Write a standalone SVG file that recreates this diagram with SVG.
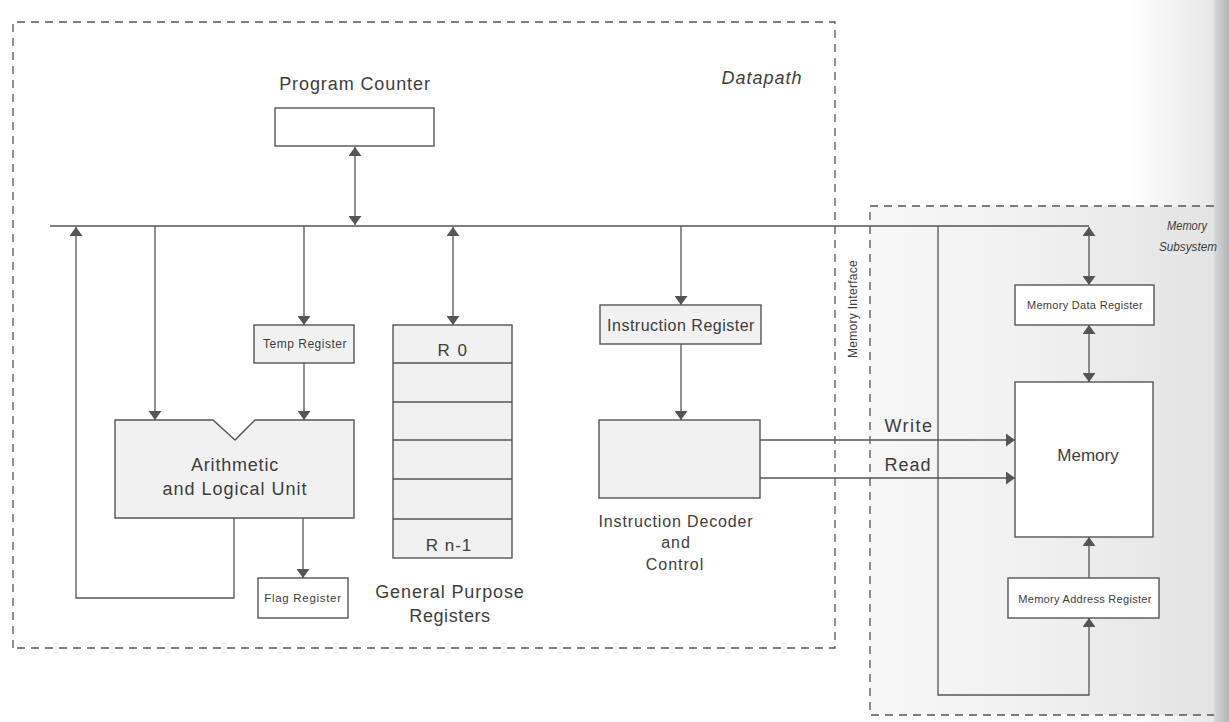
<svg xmlns="http://www.w3.org/2000/svg" width="1229" height="722" viewBox="0 0 1229 722">
<defs>
<linearGradient id="bg" x1="0" y1="0" x2="1" y2="0">
<stop offset="0" stop-color="#ffffff"/>
<stop offset="0.92" stop-color="#ffffff"/>
<stop offset="1" stop-color="#e2e2e2"/>
</linearGradient>
<linearGradient id="memshade" x1="0" y1="0" x2="1" y2="0">
<stop offset="0" stop-color="#f7f7f7"/>
<stop offset="0.5" stop-color="#f0f0f0"/>
<stop offset="1" stop-color="#e3e3e3"/>
</linearGradient>
<linearGradient id="gutter" x1="0" y1="0" x2="1" y2="0">
<stop offset="0" stop-color="#d8d8d8"/>
<stop offset="1" stop-color="#b4b4b4"/>
</linearGradient>
<marker id="ahl" viewBox="0 0 10 10" refX="10" refY="5" markerWidth="9" markerHeight="13" markerUnits="userSpaceOnUse" orient="auto-start-reverse" preserveAspectRatio="none">
<path d="M0,0 L10,5 L0,10 z" fill="#555"/>
</marker>
</defs>
<style>
.box{fill:#ffffff;stroke:#555;stroke-width:1.4}
.gbox{fill:#f1f1f1;stroke:#555;stroke-width:1.4}
.dash{fill:none;stroke:#555;stroke-width:1.3;stroke-dasharray:8 6}
.ln{fill:none;stroke:#555;stroke-width:1.3}
.t{font-family:"Liberation Sans",Arial,sans-serif;fill:#3d3d3d;text-anchor:middle}
.it{font-style:italic}
</style>
<rect x="0" y="0" width="1229" height="722" fill="url(#bg)"/>
<rect x="870" y="206" width="344" height="509" fill="url(#memshade)"/>
<rect x="1214" y="0" width="15" height="722" fill="url(#gutter)"/>

<g id="datapath-boundary">
<path class="dash" d="M13,648 L13,22 L835,22 L835,648 Z"/>
<text class="t it" x="762" y="84" font-size="18" letter-spacing="1">Datapath</text>
</g>
<g id="memory-subsystem-boundary">
<path class="dash" d="M1214,206 L870,206 L870,715 L1214,715"/>
<text class="t it" x="1187" y="230" font-size="13" textLength="40" lengthAdjust="spacingAndGlyphs">Memory</text>
<text class="t it" x="1188" y="251" font-size="13" textLength="58" lengthAdjust="spacingAndGlyphs">Subsystem</text>
</g>
<g id="memory-interface-label">
<text class="t" font-size="12" letter-spacing="0.3" transform="translate(857,309) rotate(-90)">Memory Interface</text>
</g>

<g id="connectors">
<line class="ln" x1="50" y1="226" x2="1089" y2="226"/>
<line class="ln" x1="355" y1="147" x2="355" y2="225" marker-start="url(#ahl)" marker-end="url(#ahl)"/>
<line class="ln" x1="155" y1="226" x2="155" y2="420" marker-end="url(#ahl)"/>
<line class="ln" x1="304" y1="226" x2="304" y2="325" marker-end="url(#ahl)"/>
<line class="ln" x1="304" y1="363" x2="304" y2="420" marker-end="url(#ahl)"/>
<path class="ln" d="M234,518 L234,598 L76,598 L76,227" marker-end="url(#ahl)"/>
<line class="ln" x1="303" y1="518" x2="303" y2="578" marker-end="url(#ahl)"/>
<line class="ln" x1="453" y1="227" x2="453" y2="325" marker-start="url(#ahl)" marker-end="url(#ahl)"/>
<line class="ln" x1="681" y1="226" x2="681" y2="305" marker-end="url(#ahl)"/>
<line class="ln" x1="681" y1="344" x2="681" y2="420" marker-end="url(#ahl)"/>
<line class="ln" x1="760" y1="440" x2="1015" y2="440" marker-end="url(#ahl)"/>
<line class="ln" x1="760" y1="478" x2="1015" y2="478" marker-end="url(#ahl)"/>
<line class="ln" x1="1089" y1="227" x2="1089" y2="285" marker-start="url(#ahl)" marker-end="url(#ahl)"/>
<line class="ln" x1="1089" y1="325" x2="1089" y2="382" marker-start="url(#ahl)" marker-end="url(#ahl)"/>
<line class="ln" x1="1089" y1="578" x2="1089" y2="537" marker-end="url(#ahl)"/>
<path class="ln" d="M938,226 L938,695 L1089,695 L1089,618" marker-end="url(#ahl)"/>
<text class="t" x="909" y="432" font-size="18" letter-spacing="1.5">Write</text>
<text class="t" x="908" y="471" font-size="18" letter-spacing="1">Read</text>
</g>

<g id="program-counter">
<rect class="box" x="275" y="108" width="159" height="38"/>
<text class="t" x="355" y="90" font-size="18" letter-spacing="0.9">Program Counter</text>
</g>
<g id="temp-register">
<rect class="gbox" x="254" y="325" width="100" height="38"/>
<text class="t" x="305" y="348" font-size="12" letter-spacing="0.5">Temp Register</text>
</g>
<g id="alu">
<path class="gbox" d="M115,420 L213,420 L235,440 L255,420 L354,420 L354,518 L115,518 Z"/>
<text class="t" x="235" y="471" font-size="18" letter-spacing="0.8">Arithmetic</text>
<text class="t" x="235" y="495" font-size="18" letter-spacing="1">and Logical Unit</text>
</g>
<g id="flag-register">
<rect class="box" x="258" y="578" width="90" height="40"/>
<text class="t" x="303" y="602" font-size="11.5" letter-spacing="0.7">Flag Register</text>
</g>
<g id="general-purpose-registers">
<rect class="gbox" x="393" y="325" width="119" height="233"/>
<line class="ln" x1="393" y1="363" x2="512" y2="363"/>
<line class="ln" x1="393" y1="402" x2="512" y2="402"/>
<line class="ln" x1="393" y1="440" x2="512" y2="440"/>
<line class="ln" x1="393" y1="479" x2="512" y2="479"/>
<line class="ln" x1="393" y1="519" x2="512" y2="519"/>
<text class="t" x="453" y="356" font-size="17" letter-spacing="1.5">R 0</text>
<text class="t" x="449" y="551" font-size="17" letter-spacing="1">R n-1</text>
<text class="t" x="450" y="598" font-size="18" letter-spacing="0.9">General Purpose</text>
<text class="t" x="450" y="622" font-size="18" letter-spacing="0.6">Registers</text>
</g>
<g id="instruction-register">
<rect class="gbox" x="600" y="305" width="161" height="39"/>
<text class="t" x="681" y="331" font-size="16" letter-spacing="0.5">Instruction Register</text>
</g>
<g id="instruction-decoder">
<rect class="gbox" x="599" y="420" width="161" height="78"/>
<text class="t" x="676" y="527" font-size="16" letter-spacing="0.85" fill="#555">Instruction Decoder</text>
<text class="t" x="676" y="548" font-size="16" letter-spacing="1" fill="#555">and</text>
<text class="t" x="675" y="570" font-size="16" letter-spacing="1" fill="#555">Control</text>
</g>
<g id="memory-data-register">
<rect class="box" x="1015" y="285" width="139" height="40"/>
<text class="t" x="1085" y="309" font-size="11" letter-spacing="0.3">Memory Data Register</text>
</g>
<g id="memory">
<rect class="box" x="1015" y="382" width="138" height="155"/>
<text class="t" x="1088" y="461" font-size="17">Memory</text>
</g>
<g id="memory-address-register">
<rect class="box" x="1008" y="578" width="151" height="40"/>
<text class="t" x="1085" y="603" font-size="11" letter-spacing="0.3">Memory Address Register</text>
</g>
</svg>
